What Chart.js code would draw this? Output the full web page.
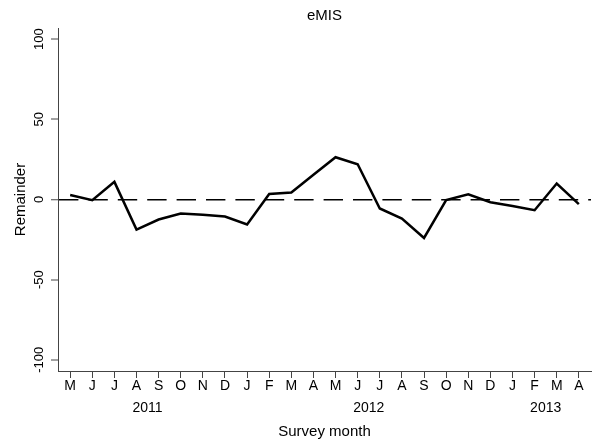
<!DOCTYPE html>
<html>
<head>
<meta charset="utf-8">
<script src="https://cdn.jsdelivr.net/npm/chart.js@4/dist/chart.umd.min.js"></script>
<style>
  html, body { margin: 0; padding: 0; background: #fff; }
  #wrap { width: 593px; height: 446px; }
</style>
</head>
<body>
<div id="wrap"><canvas id="c" width="593" height="446"></canvas></div>
<script>
// Survey months, May 2011 to April 2013
const monthLabels = ['M','J','J','A','S','O','N','D','J','F','M','A','M','J','J','A','S','O','N','D','J','F','M','A'];
// Year captions and the index of the first month that belongs to each year
const yearLabels = ['2011', '2012', '2013'];
const yearFirstMonth = [0, 8, 20];
// Remainder component per survey month
const remainder = [2.8, -0.4, 11, -18.8, -12.5, -8.8, -9.5, -10.6, -15.6, 3.4, 4.4, 15.5,
                   26.4, 22, -5.6, -11.9, -24, -0.4, 3.3, -1.7, -4, -6.7, 10, -2.9];
// Value axis ticks
const yTickValues = [-100, -50, 0, 50, 100];

const FONT = 'Liberation Sans, Arial, Helvetica, sans-serif';
const AXIS = '#444';

// centre of each year's run of months, used for the year captions
const yearCentres = yearLabels.map((_, k) => {
  const first = yearFirstMonth[k];
  const last = (k + 1 < yearFirstMonth.length ? yearFirstMonth[k + 1] : monthLabels.length) - 1;
  return (first + last) / 2;
});

const xMin = -0.55, xMax = 23.55;

new Chart(document.getElementById('c'), {
  type: 'line',
  data: {
    datasets: [{
      data: remainder.map((v, i) => ({ x: i, y: v })),
      borderColor: '#000',
      borderWidth: 2.5,
      pointRadius: 0,
      tension: 0,
      fill: false
    }]
  },
  options: {
    responsive: false,
    animation: false,
    devicePixelRatio: 1,
    layout: { padding: { left: 0, right: 2, top: 0, bottom: 0 } },
    plugins: {
      legend: { display: false },
      tooltip: { enabled: false },
      title: {
        display: true,
        text: 'eMIS',
        fullSize: false,
        color: '#000',
        font: { family: FONT, size: 15, weight: 'normal' },
        padding: { top: 7, bottom: 3 }
      }
    },
    scales: {
      x: {
        type: 'linear',
        position: 'bottom',
        min: xMin,
        max: xMax,
        afterBuildTicks: s => { s.ticks = monthLabels.map((_, i) => ({ value: i })); },
        afterFit: s => { s.height = 24; },
        ticks: {
          autoSkip: false,
          maxRotation: 0,
          minRotation: 0,
          padding: 0,
          color: '#000',
          font: { family: FONT, size: 14 },
          callback: (v, i) => monthLabels[i]
        },
        grid: {
          display: true,
          drawOnChartArea: false,
          drawTicks: true,
          tickLength: 7,
          tickColor: AXIS,
          tickWidth: 1,
          color: AXIS
        },
        border: { display: true, color: AXIS, width: 1 }
      },
      x2: {
        type: 'linear',
        position: 'bottom',
        min: xMin,
        max: xMax,
        afterBuildTicks: s => { s.ticks = yearCentres.map(v => ({ value: v })); },
        afterFit: s => { s.height = 51; },
        ticks: {
          autoSkip: false,
          maxRotation: 0,
          minRotation: 0,
          padding: 4.8,
          color: '#000',
          font: { family: FONT, size: 14 },
          callback: (v, i) => yearLabels[i]
        },
        grid: { display: false, drawTicks: false },
        border: { display: false },
        title: {
          display: true,
          text: 'Survey month',
          color: '#000',
          font: { family: FONT, size: 15 },
          padding: { top: 6, bottom: 5 }
        }
      },
      y: {
        type: 'linear',
        position: 'left',
        min: -107,
        max: 107,
        afterBuildTicks: s => { s.ticks = yTickValues.map(v => ({ value: v })); },
        afterFit: s => { s.width = 58; },
        ticks: {
          minRotation: 90,
          maxRotation: 90,
          crossAlign: 'center',
          padding: -1,
          color: '#000',
          font: { family: FONT, size: 13 },
          callback: v => String(v)
        },
        grid: {
          display: true,
          drawOnChartArea: true,
          drawTicks: true,
          tickLength: 7,
          tickColor: AXIS,
          tickWidth: 1,
          color: c => (c.tick && c.tick.value === 0 ? '#000' : 'rgba(0,0,0,0)'),
          lineWidth: c => (c.tick && c.tick.value === 0 ? 1.5 : 0)
        },
        border: { display: true, color: AXIS, width: 1, dash: [19.4, 10] },
        title: {
          display: true,
          text: 'Remainder',
          color: '#000',
          font: { family: FONT, size: 15 },
          padding: { top: 12, bottom: 0 }
        }
      }
    }
  }
});
</script>
</body>
</html>
